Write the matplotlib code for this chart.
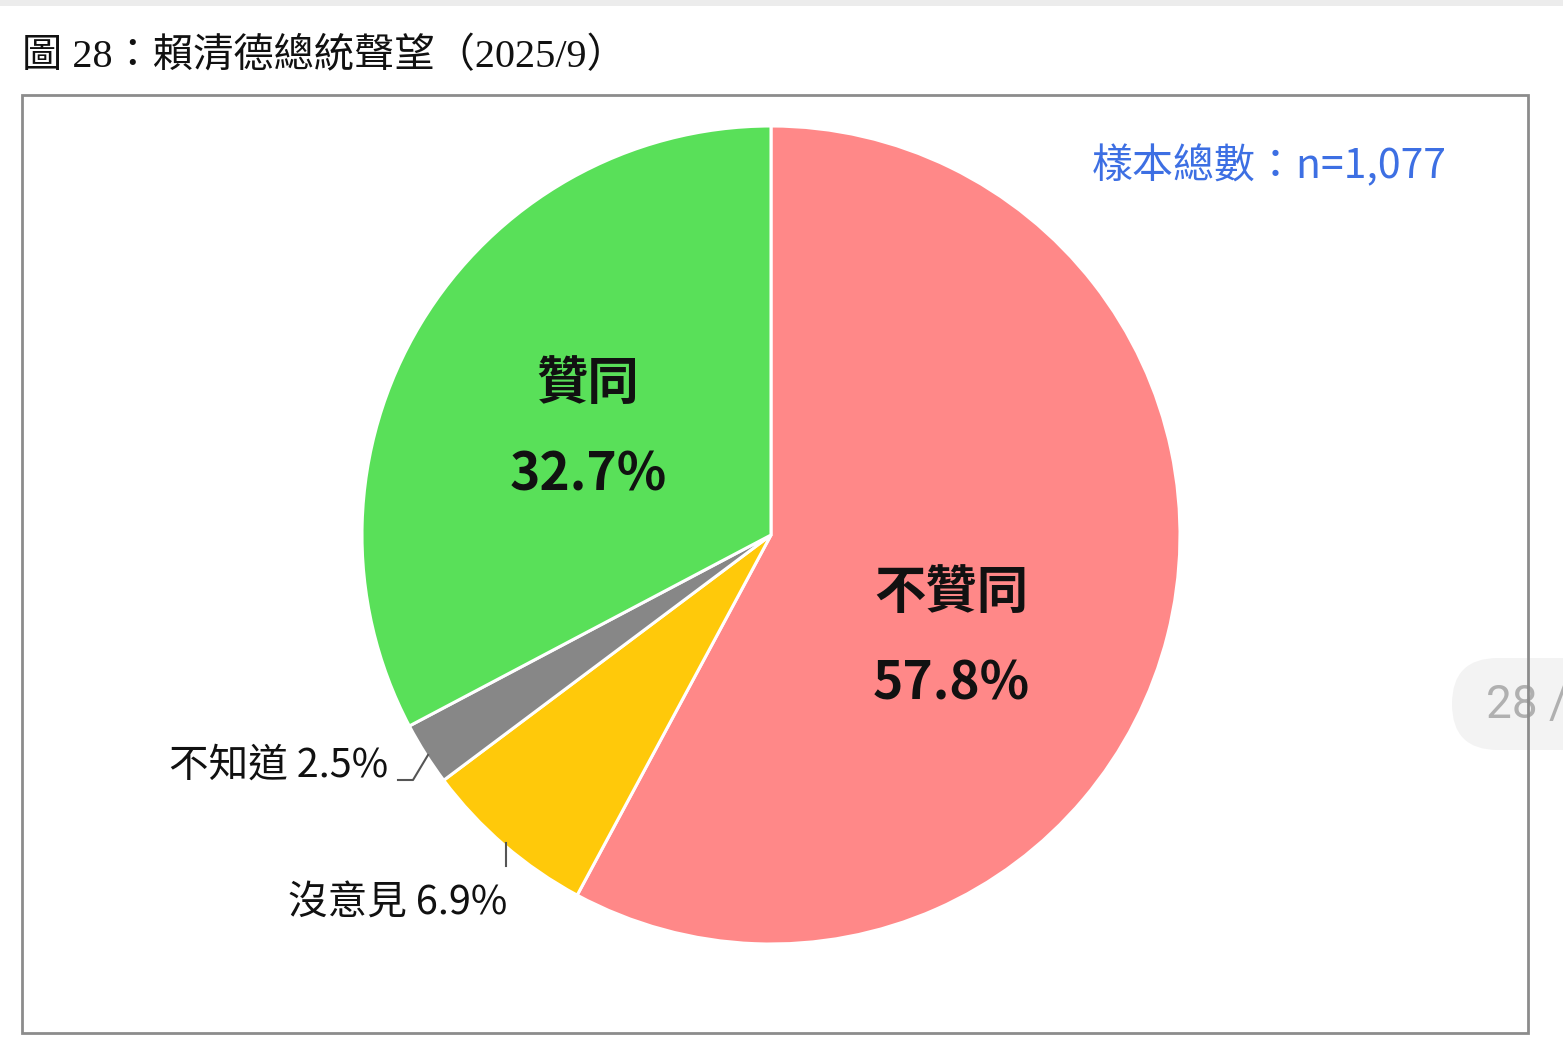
import matplotlib
matplotlib.use("Agg")
import matplotlib.pyplot as plt
from matplotlib.patches import Rectangle, FancyBboxPatch

plt.rcParams['font.family'] = ['Noto Sans CJK TC', 'DejaVu Sans']

# data
labels = ["不贊同", "沒意見", "不知道", "贊同"]
values = [57.8, 6.9, 2.5, 32.7]
colors = ["#FF8888", "#FFC90A", "#878787", "#59E059"]
explode = [0, 0, 0, 0.009]
title = "圖 28：賴清德總統聲望（2025/9）"
sample_note = "樣本總數：n=1,077"

W, H = 1563, 1047


def Y(y):
    # pixel row (from top) -> data y
    return H - y


fig = plt.figure(figsize=(W / 100, H / 100), dpi=100)
ax = fig.add_axes([0, 0, 1, 1])

# screen shadow at the top
ax.add_patch(Rectangle((0, Y(6)), W, 6, facecolor="#ECECEC", edgecolor="none", zorder=0))

# page indicator pill on the right
ax.add_patch(FancyBboxPatch((1452, Y(750)), 170, 92, boxstyle="round,pad=0,rounding_size=46",
                            facecolor="#F3F3F3", edgecolor="none", zorder=1))
ax.text(1486, Y(705), "28 /", fontsize=33, color="#B0B0B0", va="center", ha="left",
        family=["Roboto", "DejaVu Sans"], zorder=2)

# frame
ax.add_patch(Rectangle((22, Y(1033)), 1506, 1033 - 95, facecolor="none",
                       edgecolor="#8C8C8C", linewidth=2, zorder=5))

# title
ax.text(22, Y(57), title, fontsize=29, va="center", ha="left", color="#111111",
        family=["Liberation Serif", "Noto Sans CJK TC"])

# pie
wedges, _ = ax.pie(values, colors=colors, startangle=90, counterclock=False,
                   center=(771, Y(535)), radius=409, explode=explode,
                   wedgeprops=dict(edgecolor="white", linewidth=2.2), frame=True)
ax.set_xlim(0, W)
ax.set_ylim(0, H)
ax.set_aspect("equal")
ax.axis("off")

# inner labels
ax.text(588, Y(383), labels[3], fontsize=37, weight="bold", ha="center", va="center", color="#111111")
ax.text(588, Y(475), f"{values[3]}%", fontsize=37, weight="bold", ha="center", va="center", color="#111111")
ax.text(951, Y(592), labels[0], fontsize=37, weight="bold", ha="center", va="center", color="#111111")
ax.text(951, Y(684), f"{values[0]}%", fontsize=37, weight="bold", ha="center", va="center", color="#111111")

# outer labels with leader lines
ax.text(388, Y(766), f"{labels[2]} {values[2]}%", fontsize=28.5, ha="right", va="center", color="#111111")
ax.plot([398, 413, 428], [Y(780), Y(780), Y(755)], color="#555555", linewidth=1.5)
ax.text(507, Y(903), f"{labels[1]} {values[1]}%", fontsize=28.5, ha="right", va="center", color="#111111")
ax.plot([506, 506], [Y(843), Y(866)], color="#555555", linewidth=1.5)

# sample size
ax.text(1447, Y(166), sample_note, fontsize=29.5, ha="right", va="center", color="#3D6FE3")

fig.savefig("out.png", dpi=100)
